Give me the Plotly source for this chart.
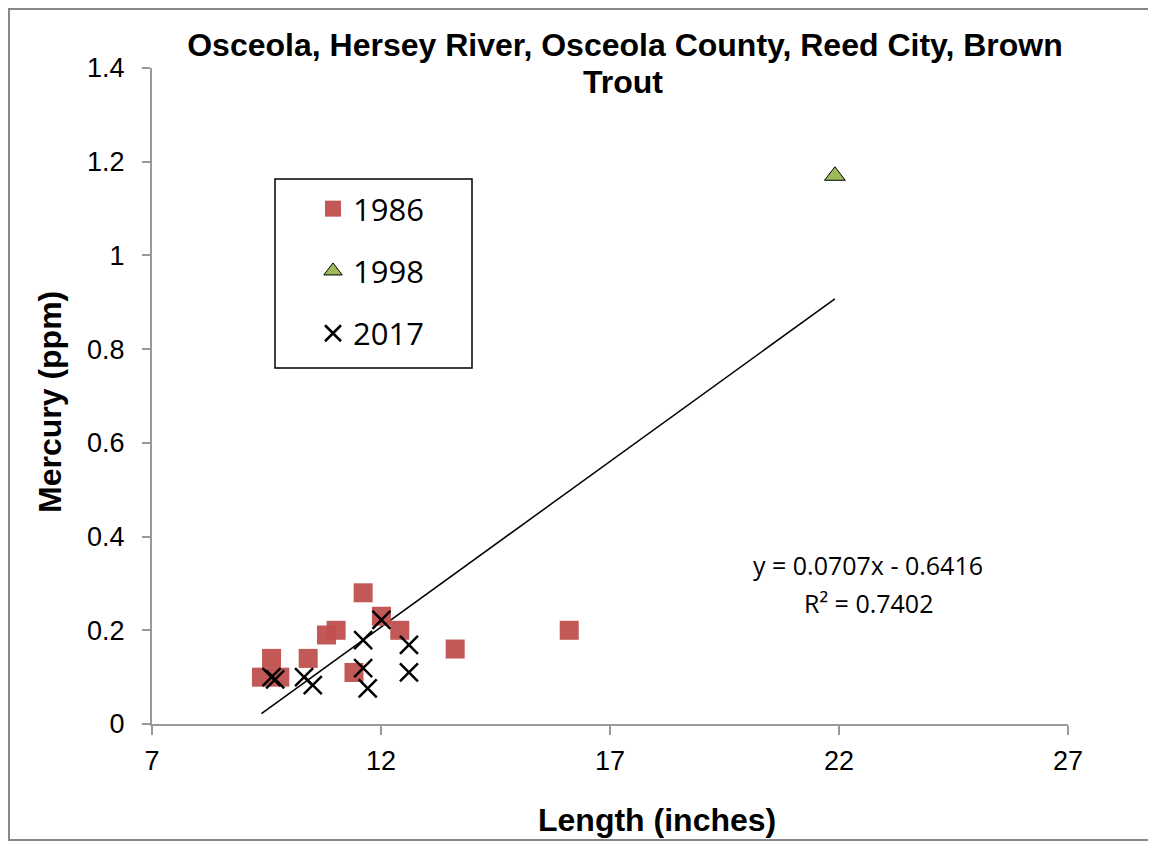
import plotly.graph_objects as go

# 1986 data
x_1986 = [11.61, 12.01, 12.41, 11.02, 10.81, 9.61, 10.41, 9.39, 9.79, 11.41, 13.62, 16.11]
y_1986 = [0.28, 0.23, 0.20, 0.20, 0.19, 0.14, 0.14, 0.10, 0.10, 0.11, 0.16, 0.20]
# 1998 data
x_1998 = [21.91]
y_1998 = [1.17]
# 2017 data
x_2017 = [9.61, 9.69, 10.32, 10.51, 11.61, 12.01, 11.61, 11.71, 12.61, 12.61]
y_2017 = [0.10, 0.095, 0.10, 0.083, 0.179, 0.222, 0.119, 0.076, 0.169, 0.11]

slope = 0.0707
intercept = -0.6416
x_ticks = [7, 12, 17, 22, 27]
y_ticks = [0, 0.2, 0.4, 0.6, 0.8, 1, 1.2, 1.4]
y_tick_text = ["0", "0.2", "0.4", "0.6", "0.8", "1", "1.2", "1.4"]

all_x = x_1986 + x_1998 + x_2017
tx = [min(all_x), max(all_x)]
ty = [slope * v + intercept for v in tx]

# figure geometry (page body adds an 8px offset)
W, H = 1148, 834
L, T, PW, PH = 144, 60, 916, 656
def px(x):
    return (x - L) / PW
def py(y):
    return (T + PH - y) / PH

fig = go.Figure()
fig.add_trace(go.Scatter(x=tx, y=ty, mode="lines", line=dict(color="black", width=1.5),
                         showlegend=False, hoverinfo="skip"))
fig.add_trace(go.Scatter(x=x_1986, y=y_1986, mode="markers", name="1986", legendgroup="a",
                         marker=dict(symbol="square", size=19, color="#C0504D", opacity=0.95)))
fig.add_trace(go.Scatter(x=x_1998, y=y_1998, mode="markers", name="1998", legendgroup="b",
                         marker=dict(symbol="triangle-up", size=18, color="#9BBB59",
                                     line=dict(color="black", width=1))))
fig.add_trace(go.Scatter(x=x_2017, y=y_2017, mode="markers", name="2017", legendgroup="c",
                         marker=dict(symbol="x-thin", size=18, color="black",
                                     line=dict(color="black", width=2.5))))

tick_font = dict(family="Liberation Sans, Arial", size=27, color="black")
title_font = dict(family="Liberation Sans, Arial", size=32, color="black")
axis_title_font = dict(family="Liberation Sans, Arial", size=32, color="black")
calibri_like = dict(family="Open Sans, Liberation Sans", size=25, color="black")

fig.update_layout(
    width=W, height=H,
    margin=dict(l=L, r=W - L - PW, t=T, b=H - T - PH, autoexpand=False),
    paper_bgcolor="white", plot_bgcolor="white",
    title=dict(text="<b>Osceola, Hersey River, Osceola County, Reed City, Brown</b>",
               x=px(617), xref="paper", xanchor="center", y=1 - 37 / H, yref="container",
               yanchor="middle", font=title_font, automargin=False),
    xaxis=dict(range=[7, 27], tickvals=x_ticks, showgrid=False, zeroline=False,
               showline=True, linecolor="#999999", linewidth=2, automargin=False,
               ticks="outside", ticklen=9, tickcolor="#999999", tickwidth=2,
               tickfont=tick_font, ticklabelstandoff=3),
    yaxis=dict(range=[0, 1.4], tickvals=y_ticks, ticktext=y_tick_text, showgrid=False, zeroline=False,
               showline=True, linecolor="#999999", linewidth=2, automargin=False,
               ticks="outside", ticklen=8, tickcolor="#999999", tickwidth=2,
               tickfont=tick_font, ticklabelstandoff=12),
    legend=dict(x=px(313 - 8), y=py(182 - 8), xanchor="left", yanchor="top",
                borderwidth=0, bgcolor="rgba(0,0,0,0)",
                font=dict(family="Open Sans, Liberation Sans", size=31, color="black"),
                tracegroupgap=19),
    showlegend=True,
    shapes=[
        dict(type="rect", xref="paper", yref="paper",
             x0=px(1), x1=px(W - 1), y0=py(H - 2), y1=py(1),
             line=dict(color="#888888", width=2), fillcolor="rgba(0,0,0,0)", layer="below"),
        dict(type="rect", xref="paper", yref="paper",
             x0=px(275 - 8), x1=px(472 - 8), y0=py(368 - 8), y1=py(179 - 8),
             line=dict(color="black", width=1.5), fillcolor="white", layer="below"),
    ],
    annotations=[
        dict(x=px(623 - 8), y=py(82 - 8), xref="paper", yref="paper", xanchor="center",
             text="<b>Trout</b>", showarrow=False, font=title_font, yanchor="middle"),
        dict(x=px(657 - 8), y=py(820 - 8), xref="paper", yref="paper", xanchor="center",
             yanchor="middle", text="<b>Length (inches)</b>", showarrow=False, font=axis_title_font),
        dict(x=px(50 - 8), y=py(402 - 8), xref="paper", yref="paper", xanchor="center",
             yanchor="middle", textangle=-90, text="<b>Mercury (ppm)</b>", showarrow=False,
             font=axis_title_font),
        dict(x=px(868 - 8), y=py(565 - 8), xref="paper", yref="paper", xanchor="center",
             text="y = 0.0707x - 0.6416", showarrow=False, font=calibri_like, yanchor="middle"),
        dict(x=px(868 - 8), y=py(603 - 8), xref="paper", yref="paper", xanchor="center",
             text="R² = 0.7402", showarrow=False, font=calibri_like, yanchor="middle"),
    ],
)

fig.write_html("out.html")
